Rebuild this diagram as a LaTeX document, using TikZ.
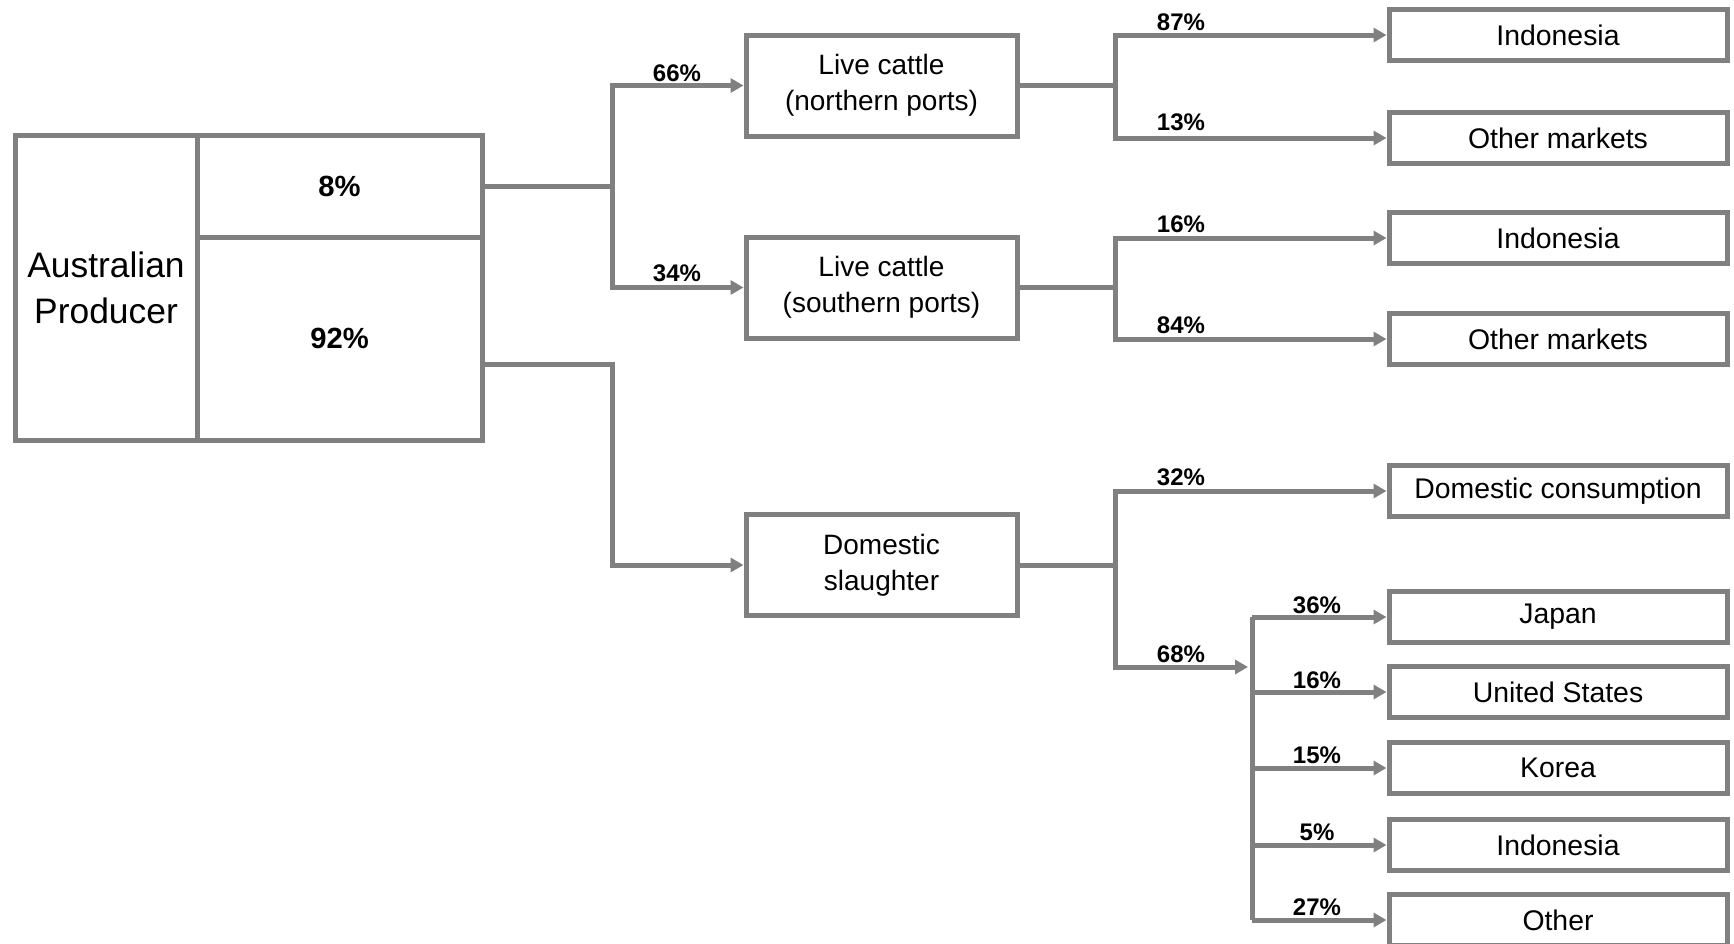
\documentclass[tikz,border=0pt]{standalone}
\usepackage{fontspec}
\setmainfont{Liberation Sans}
\usetikzlibrary{arrows.meta}
\definecolor{linegray}{RGB}{128,128,128}
\begin{document}
\begin{tikzpicture}[x=0.5pt,y=-0.5pt,
  box/.style={draw=linegray, line width=2.5pt, rectangle, inner sep=0pt, align=center},
  mid/.style={box, minimum width=135.5pt, minimum height=50.5pt, font=\fontsize{14}{18}\selectfont},
  dest/.style={box, minimum width=169pt, minimum height=25.5pt, font=\fontsize{14.2}{17}\selectfont},
  link/.style={draw=linegray, line width=2.5pt},
  arr/.style={link, -{Triangle[length=6.5pt,width=7pt]}},
  pct/.style={font=\fontsize{12}{14}\selectfont\bfseries, inner sep=0pt},
]
\useasboundingbox (0,0) rectangle (1734,943);

% producer block
\node[box, minimum width=91pt, minimum height=152.5pt, font=\fontsize{17.7}{23}\selectfont] (prod) at (106,287.5) {Australian\\Producer};
\node[box, minimum width=142.5pt, minimum height=51pt, font=\fontsize{14.6}{16}\selectfont\bfseries] (p8) at (339.5,186) {8\%};
\node[box, minimum width=142.5pt, minimum height=101.5pt, font=\fontsize{14.6}{16}\selectfont\bfseries] (p92) at (339.5,338.5) {92\%};

% middle
\node[mid] (nc) at (881.5,85.5) {Live cattle\\(northern ports)};
\node[mid] (sc) at (881.5,287.5) {Live cattle\\(southern ports)};
\node[mid] (dc) at (881.5,565) {Domestic\\slaughter};

% destinations
\node[dest] (t1) at (1558,35) {Indonesia};
\node[dest] (t2) at (1558,138) {Other markets};
\node[dest] (t3) at (1558,238) {Indonesia};
\node[dest] (t4) at (1558,339) {Other markets};
\node[dest] (t5) at (1558,491) {Domestic consumption};
\node[dest] (t6) at (1558,617) {Japan};
\node[dest] (t7) at (1558,692) {United States};
\node[dest] (t8) at (1558,768) {Korea};
\node[dest] (t9) at (1558,845) {Indonesia};
\node[dest] (t10) at (1558,920) {Other};

% connectors from producer
\draw[link] (p8.east) -- ++(128,0) coordinate (j1);
\draw[arr] (j1) |- (nc.west);
\draw[arr] (j1) |- (sc.west);
\draw[arr] ([yshift=-12.75pt]p92.east) -- ++(128,0) |- (dc.west);

% live cattle splits
\draw[link] (nc.east) -- ++(96,0) coordinate (k1);
\draw[arr] (k1) |- (t1.west);
\draw[arr] (k1) |- (t2.west);
\draw[link] (sc.east) -- ++(96,0) coordinate (k2);
\draw[arr] (k2) |- (t3.west);
\draw[arr] (k2) |- (t4.west);

% domestic split
\draw[link] (dc.east) -- ++(96,0) coordinate (k3);
\coordinate (v) at (1252,667);
\draw[arr] (k3) |- (t5.west);
\draw[arr, shorten >=2pt] (k3) |- (v);
\draw[link] (v |- t6.west) -- (v |- t10.west);
\draw[arr] (v |- t6.west) -- (t6.west);
\draw[arr] (v |- t7.west) -- (t7.west);
\draw[arr] (v |- t8.west) -- (t8.west);
\draw[arr] (v |- t9.west) -- (t9.west);
\draw[arr] (v |- t10.west) -- (t10.west);

% labels
\node[pct] (l66) at (677,73) {66\%};
\node[pct] (l34) at (677,273) {34\%};
\node[pct] (l87) at (1181,22) {87\%};
\node[pct] (l13) at (1181,122) {13\%};
\node[pct] (l16a) at (1181,224) {16\%};
\node[pct] (l84) at (1181,325) {84\%};
\node[pct] (l32) at (1181,477) {32\%};
\node[pct] (l68) at (1181,654) {68\%};
\node[pct] (l36) at (1317,605) {36\%};
\node[pct] (l16b) at (1317,680) {16\%};
\node[pct] (l15) at (1317,755) {15\%};
\node[pct] (l5) at (1317,832) {5\%};
\node[pct] (l27) at (1317,907) {27\%};
\end{tikzpicture}
\end{document}
